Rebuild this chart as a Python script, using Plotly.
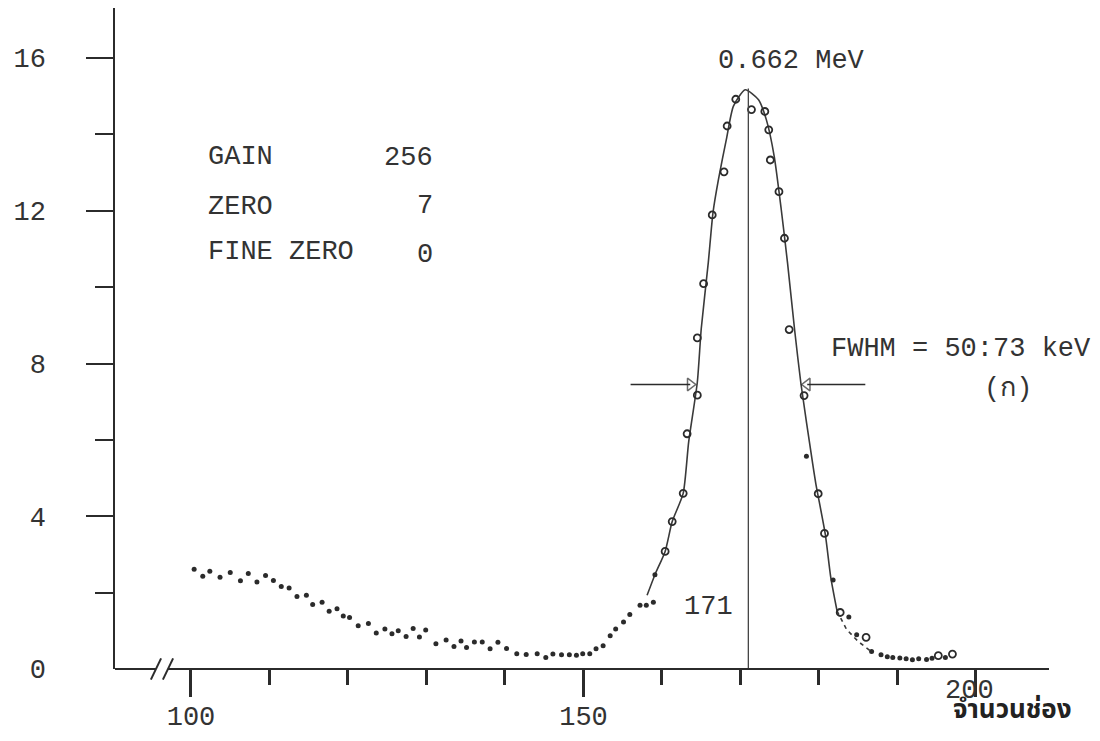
import plotly.graph_objects as go

# ---------------- data ----------------
# small filled dots (Compton region + tails)
dot_channel = [100.4, 101.5, 102.4, 103.7, 105.0, 106.3, 107.3, 108.4, 109.5, 110.5,
               111.5, 112.5, 113.5, 114.7, 115.5, 116.7, 117.6, 118.6, 119.4, 120.2,
               121.3, 122.6, 123.6, 124.7, 125.6, 126.4, 127.4, 128.3, 129.1, 129.9,
               131.2, 132.5, 133.5, 134.4, 135.1, 136.1, 137.1, 138.1, 139.1, 140.2,
               141.5, 142.7, 144.1, 145.2, 146.1, 147.2, 148.2, 149.1, 149.9, 150.8,
               151.6, 152.5, 153.4, 154.1, 155.1, 155.9, 157.2, 158.0, 158.9, 159.1,
               178.4, 181.8, 183.8, 184.8, 186.7, 187.9, 188.7, 189.4, 190.3, 191.1,
               191.9, 192.7, 193.7, 194.4, 196.1]
dot_counts = [2.61, 2.43, 2.56, 2.40, 2.53, 2.31, 2.50, 2.28, 2.45, 2.32,
              2.16, 2.12, 1.90, 1.93, 1.69, 1.75, 1.51, 1.58, 1.39, 1.35,
              1.13, 1.19, 0.94, 1.05, 0.92, 1.00, 0.85, 1.06, 0.84, 1.02,
              0.66, 0.76, 0.59, 0.73, 0.56, 0.71, 0.71, 0.53, 0.70, 0.54,
              0.40, 0.38, 0.40, 0.30, 0.39, 0.37, 0.37, 0.36, 0.40, 0.40,
              0.53, 0.61, 0.87, 1.05, 1.23, 1.43, 1.67, 1.67, 1.75, 2.47,
              5.57, 2.33, 1.36, 0.90, 0.46, 0.37, 0.32, 0.30, 0.29, 0.27,
              0.24, 0.27, 0.25, 0.28, 0.30]

# open circles (photopeak)
circ_channel = [160.4, 161.3, 162.7, 163.2, 164.5, 164.5, 165.3, 166.4, 167.9, 168.3,
                169.4, 171.4, 173.1, 173.6, 173.8, 174.9, 175.6, 176.2, 178.1, 179.9,
                180.7, 182.7, 186.0, 195.2, 197.0]
circ_counts = [3.08, 3.86, 4.60, 6.16, 7.17, 8.67, 10.09, 11.89, 13.02, 14.22,
               14.92, 14.65, 14.60, 14.12, 13.33, 12.50, 11.28, 8.89, 7.16, 4.59,
               3.55, 1.48, 0.83, 0.35, 0.39]

# hand-drawn fitted curve through the peak
curve_channel = [158.1, 159.1, 160.4, 161.3, 162.7, 163.4, 164.5, 165.0, 165.9, 166.5,
                 167.2, 168.2, 169.1, 170.6, 172.3, 173.3, 174.3, 175.2, 176.0, 176.9,
                 177.7, 179.2, 179.6, 180.8, 181.5, 182.3]
curve_counts = [1.93, 2.47, 3.08, 3.86, 4.60, 5.95, 7.51, 8.91, 10.65, 11.96,
                12.83, 13.87, 14.74, 15.17, 14.91, 14.38, 13.42, 12.02, 10.62, 8.87,
                7.47, 5.37, 4.85, 3.53, 2.40, 1.52]
# dashed continuation of the curve on the high-channel side
tail_channel = [182.3, 183.5, 185.0, 186.7]
tail_counts = [1.52, 1.04, 0.72, 0.45]

peak_channel = 171
peak_top = 15.2

# FWHM arrows (tail, head) and their level
fwhm_level = 7.45
fwhm_left = [156.0, 163.6]
fwhm_right = [185.9, 178.5]

# axis ticks / labels
x_major = [100, 150, 200]
x_labels = ["100", "150", ""]      # "200" is written above the caption (see annotations)
x_last_label = "200"
y_major = [4, 8, 12, 16]
y_minor = [2, 6, 10, 14]
y_label_vals = [0, 4, 8, 12, 16]
y_labels = ["0", "4", "8", "12", "16"]

X_MIN, X_MAX = 90.32, 209.3
Y_MIN, Y_MAX = 0, 17.31
BREAK_A, BREAK_B = 95.54, 97.07   # axis break "//"

INK = "#2b2b2b"
FONT = "Liberation Mono, Courier New, monospace"

fig = go.Figure()

fig.add_trace(go.Scatter(x=curve_channel, y=curve_counts, mode="lines",
                         line=dict(color="#3a3a3a", width=1.6, shape="spline", smoothing=0.6),
                         hoverinfo="skip"))
fig.add_trace(go.Scatter(x=tail_channel, y=tail_counts, mode="lines",
                         line=dict(color="#3a3a3a", width=1.6, dash="4px,4px"),
                         hoverinfo="skip"))
fig.add_trace(go.Scatter(x=[peak_channel, peak_channel], y=[0, peak_top], mode="lines",
                         line=dict(color="#444444", width=1.3), yaxis="y2",
                         hoverinfo="skip"))
fig.add_trace(go.Scatter(x=dot_channel, y=dot_counts, mode="markers",
                         marker=dict(symbol="circle", size=5, color=INK)))
fig.add_trace(go.Scatter(x=circ_channel, y=circ_counts, mode="markers",
                         marker=dict(symbol="circle-open", size=7, color=INK,
                                     line=dict(width=1.8, color=INK))))
fig.add_trace(go.Scatter(x=fwhm_left, y=[fwhm_level] * 2, mode="lines+markers",
                         line=dict(color=INK, width=1.5),
                         marker=dict(symbol="triangle-right-open", size=[0, 11],
                                     line=dict(width=1.5, color=INK), color=INK)))
fig.add_trace(go.Scatter(x=fwhm_right, y=[fwhm_level] * 2, mode="lines+markers",
                         line=dict(color=INK, width=1.5),
                         marker=dict(symbol="triangle-left-open", size=[0, 11],
                                     line=dict(width=1.5, color=INK), color=INK)))

# x axis line with break
shapes = [
    dict(type="line", xref="x", yref="paper", x0=X_MIN, x1=BREAK_A, y0=0, y1=0,
         line=dict(color=INK, width=2)),
    dict(type="line", xref="x", yref="paper", x0=BREAK_B, x1=X_MAX, y0=0, y1=0,
         line=dict(color=INK, width=2)),
    dict(type="line", xref="x", yref="paper", x0=BREAK_A - 0.65, x1=BREAK_A + 0.65,
         y0=-0.016, y1=0.016, line=dict(color=INK, width=2)),
    dict(type="line", xref="x", yref="paper", x0=BREAK_B - 0.65, x1=BREAK_B + 0.65,
         y0=-0.016, y1=0.016, line=dict(color=INK, width=2)),
]

tf = dict(family=FONT, size=27, color="#333333")
ann = [
    dict(x=176.5, y=15.93, text="0.662 MeV", xanchor="center", yanchor="middle"),
    dict(x=101.9, y=13.4, text="GAIN", xanchor="left", yanchor="middle"),
    dict(x=101.9, y=12.11, text="ZERO", xanchor="left", yanchor="middle"),
    dict(x=101.9, y=10.93, text="FINE ZERO", xanchor="left", yanchor="middle"),
    dict(x=131.1, y=13.38, text="256", xanchor="right", yanchor="middle"),
    dict(x=131.1, y=12.12, text="7", xanchor="right", yanchor="middle"),
    dict(x=131.1, y=10.84, text="0", xanchor="right", yanchor="middle"),
    dict(x=181.3, y=8.38, text="FWHM = 50:73 keV", xanchor="left", yanchor="middle"),
    dict(x=204.1, y=7.33, text="(ก)", xanchor="center", yanchor="middle"),
    dict(x=165.9, y=1.62, text="171", xanchor="center", yanchor="middle"),
]
annotations = []
for a in ann:
    a.update(xref="x", yref="y", showarrow=False, font=tf)
    annotations.append(a)
# tick label of 200 sits higher than the others, just above the axis caption
annotations.append(dict(x=x_major[-1] - 0.8, y=-0.033, xref="x", yref="paper",
                        text=x_last_label, showarrow=False, xanchor="center",
                        yanchor="middle", font=tf))
# x-axis caption below the axis (outside the y range, so placed in paper units)
annotations.append(dict(x=204.7, y=-0.062, xref="x", yref="paper", text="<b>จำนวนช่อง</b>",
                        showarrow=False, xanchor="center", yanchor="middle",
                        font=dict(family="Noto Sans Thai, Loma, Garuda, Liberation Mono, DejaVu Sans, sans-serif",
                                  size=26, color="#222222")))

fig.update_layout(
    width=1084, height=725,
    margin=dict(l=107, r=43, t=0, b=64),
    paper_bgcolor="white", plot_bgcolor="white",
    showlegend=False,
    shapes=shapes,
    annotations=annotations,
    xaxis=dict(range=[X_MIN, X_MAX], showgrid=False, zeroline=False, showline=False,
               tickmode="array", tickvals=x_major, ticktext=x_labels,
               ticks="outside", ticklen=27, tickwidth=2.5, tickcolor=INK,
               minor=dict(dtick=10, tick0=100, ticks="outside", ticklen=15,
                          tickwidth=2.5, tickcolor=INK, showgrid=False),
               tickfont=tf, ticklabelstandoff=-4, automargin=False),
    yaxis=dict(range=[Y_MIN, Y_MAX], showgrid=False, zeroline=False,
               showline=True, linecolor=INK, linewidth=2,
               tickmode="array", tickvals=y_major, showticklabels=False,
               ticks="outside", ticklen=27, tickwidth=2, tickcolor=INK,
               minor=dict(tickmode="array", tickvals=y_minor, ticks="outside",
                          ticklen=18, tickwidth=2, tickcolor=INK, showgrid=False),
               automargin=False),
    yaxis2=dict(range=[Y_MIN, Y_MAX], overlaying="y", side="left", showgrid=False,
                zeroline=False, showline=False, ticks="",
                tickmode="array", tickvals=y_label_vals, ticktext=y_labels,
                tickfont=tf, ticklabelstandoff=68, automargin=False),
)

fig.write_html("out.html")
